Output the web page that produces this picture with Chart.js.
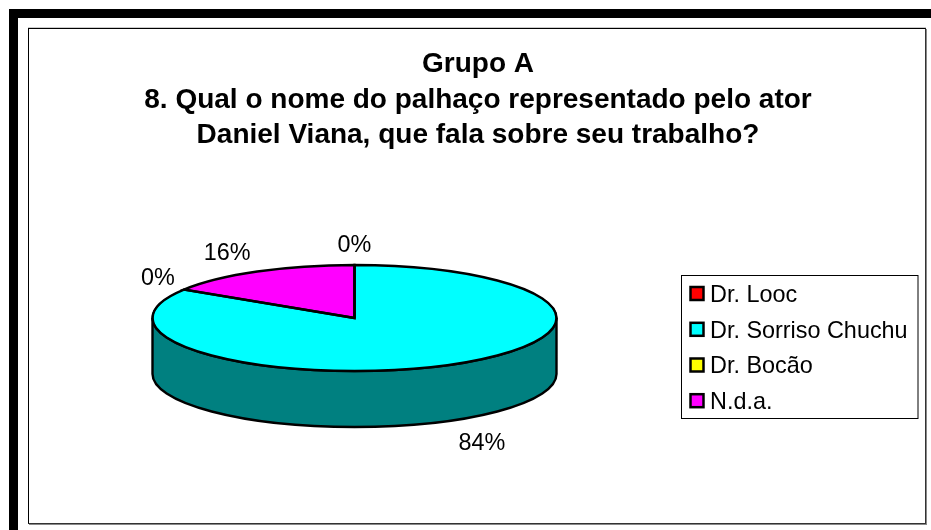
<!DOCTYPE html>
<html>
<head>
<meta charset="utf-8">
<script src="https://cdn.jsdelivr.net/npm/chart.js@4"></script>
<style>
	html, body { margin: 0; padding: 0; width: 931px; height: 530px; overflow: hidden; background: #fff; }
	#frame { position: absolute; left: 9px; top: 9px; width: 1000px; height: 600px; border: 9px solid #000; }
	#plot { position: absolute; left: 28px; top: 28px; width: 896px; height: 494px; border: 1px solid #000; border-right-color: #333; border-bottom-color: #333; box-shadow: 0 -1px 0 #ccc, 1px 1px 0 #888; }
	#chart { position: absolute; left: 0; top: 0; }
</style>
</head>
<body>
<div id="frame"></div>
<div id="plot"></div>
<canvas id="chart" width="931" height="530"></canvas>
<script>
const TITLE_LINES = [
	"Grupo A",
	"8. Qual o nome do palhaço representado pelo ator",
	"Daniel Viana, que fala sobre seu trabalho?",
];
const CATEGORIES = ["Dr. Looc", "Dr. Sorriso Chuchu", "Dr. Bocão", "N.d.a."];
const VALUES = [0, 84, 0, 16];
const COLORS = ["#ff0000", "#00ffff", "#ffff00", "#ff00ff"];
const SIDE_COLORS = ["#800000", "#008080", "#808000", "#800080"];

const FONT = "23.4px 'Liberation Sans'";
const LINE = 2.4;

// pie is drawn flattened, so these set where the disc ends up on the page
const PIE_X = 354.5;
const PIE_Y = 318;
const PIE_RADIUS = 202;
const PIE_SQUASH = 53 / 202;
const PIE_DEPTH = 56;
const LABEL_NUDGE = [[0, -19], [30, 23], [-26, -11], [-30, -18]];

const LEGEND_BOX = { x: 681.5, y: 275.5, w: 236.5, h: 143 };
const LEGEND_ROWS = [293.5, 329.3, 365, 400.7];

const arcsOf = (chart) => chart.getDatasetMeta(0).data;

const drawSide = (ctx, arc, i) => {
	const from = Math.max(arc.startAngle, 0);
	const to = Math.min(arc.endAngle, Math.PI);
	if (to <= from) return;
	const ry = PIE_RADIUS * PIE_SQUASH;
	ctx.beginPath();
	ctx.ellipse(PIE_X, PIE_Y + PIE_DEPTH, PIE_RADIUS, ry, 0, from, to);
	ctx.ellipse(PIE_X, PIE_Y, PIE_RADIUS, ry, 0, to, from, true);
	ctx.closePath();
	ctx.fillStyle = SIDE_COLORS[i];
	ctx.fill();
	ctx.lineWidth = LINE;
	ctx.strokeStyle = "#000";
	ctx.stroke();
};

const flatten = (ctx, arc) => {
	ctx.translate(PIE_X, PIE_Y);
	ctx.scale(1, PIE_SQUASH);
	ctx.translate(-arc.x, -arc.y);
};

const drawLegend = (ctx) => {
	ctx.lineWidth = 1;
	ctx.strokeStyle = "#000";
	ctx.strokeRect(LEGEND_BOX.x, LEGEND_BOX.y, LEGEND_BOX.w, LEGEND_BOX.h);
	ctx.font = FONT;
	ctx.textAlign = "left";
	ctx.textBaseline = "middle";
	CATEGORIES.forEach((name, i) => {
		const y = LEGEND_ROWS[i];
		ctx.fillStyle = COLORS[i];
		ctx.fillRect(690.5, y - 6.5, 13, 13);
		ctx.lineWidth = 2.5;
		ctx.strokeRect(690.5, y - 6.5, 13, 13);
		ctx.fillStyle = "#000";
		ctx.fillText(name, 710, y + 2);
	});
};

const pie3d = {
	id: "pie3d",
	beforeDatasetsDraw(chart) {
		const ctx = chart.ctx;
		const arcs = arcsOf(chart);
		arcs.forEach((arc, i) => drawSide(ctx, arc, i));
		ctx.save();
		flatten(ctx, arcs[0]);
	},
	afterDatasetsDraw(chart) {
		const ctx = chart.ctx;
		ctx.restore();

		// outlines again, unsquashed, else the pen gets thin at the top of the disc
		arcsOf(chart).forEach((arc) => {
			if (arc.circumference === 0) return;
			ctx.save();
			flatten(ctx, arc);
			ctx.beginPath();
			ctx.moveTo(arc.x, arc.y);
			ctx.arc(arc.x, arc.y, PIE_RADIUS, arc.startAngle, arc.endAngle);
			ctx.closePath();
			ctx.restore();
			ctx.lineWidth = LINE;
			ctx.strokeStyle = "#000";
			ctx.stroke();
		});

		// percentage labels
		const total = VALUES.reduce((a, b) => a + b, 0);
		ctx.save();
		ctx.font = FONT;
		ctx.fillStyle = "#000";
		ctx.textAlign = "center";
		ctx.textBaseline = "middle";
		arcsOf(chart).forEach((arc, i) => {
			const mid = (arc.startAngle + arc.endAngle) / 2;
			const x = PIE_X + Math.cos(mid) * PIE_RADIUS;
			let y = PIE_Y + Math.sin(mid) * PIE_RADIUS * PIE_SQUASH;
			if (Math.sin(mid) > 0) y += PIE_DEPTH;
			ctx.fillText(Math.round((VALUES[i] / total) * 100) + "%", x + LABEL_NUDGE[i][0], y + LABEL_NUDGE[i][1]);
		});
		drawLegend(ctx);
		ctx.restore();
	},
};

new Chart(document.getElementById("chart").getContext("2d"), {
	type: "pie",
	plugins: [pie3d],
	data: {
		labels: CATEGORIES,
		datasets: [
			{
				data: VALUES,
				backgroundColor: COLORS,
				borderColor: "#000",
				borderWidth: 2,
				radius: PIE_RADIUS,
				clip: false,
			},
		],
	},
	options: {
		responsive: false,
		animation: false,
		devicePixelRatio: 1,
		layout: { padding: { left: 30, right: 5, top: 0, bottom: 0 } },
		plugins: {
			tooltip: { enabled: false },
			legend: { display: false },
			title: {
				display: true,
				text: TITLE_LINES,
				color: "#000",
				font: { family: "'Liberation Sans'", size: 28, weight: "bold", lineHeight: 1.268 },
				padding: { top: 47, bottom: 20 },
			},
		},
	},
});
</script>
</body>
</html>
